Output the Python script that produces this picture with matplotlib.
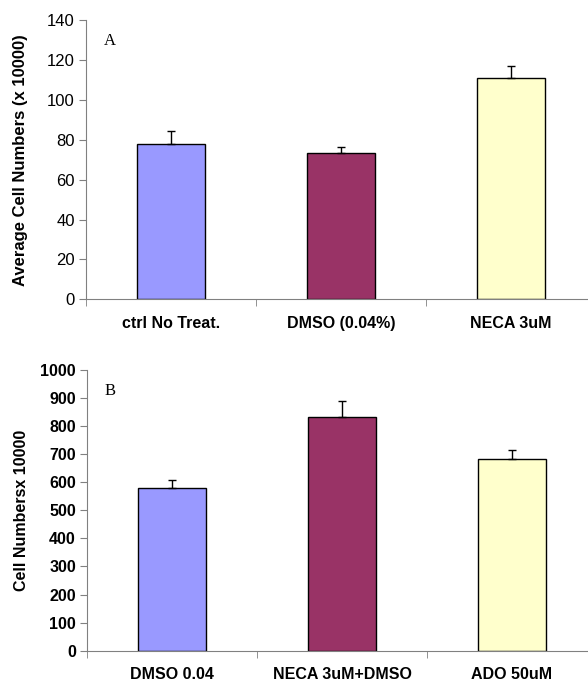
import numpy as np
import matplotlib
matplotlib.use("Agg")
import matplotlib.pyplot as plt

# panel A
labelsA = ['ctrl No Treat.', 'DMSO (0.04%)', 'NECA 3uM']
meansA = [78, 73.2, 110.8]
errA = [6.5, 3.3, 6.2]

# panel B
labelsB = ['DMSO 0.04', 'NECA 3uM+DMSO', 'ADO 50uM']
meansB = [578, 832, 683]
errB = [29, 57, 33]

colors = ['#9999ff', '#993366', '#ffffcc']

W, H = 588, 682
fig = plt.figure(figsize=(W / 100, H / 100), dpi=100)

def px_axes(left, top, right, bottom):
    return fig.add_axes([left / W, 1 - bottom / H, (right - left) / W, (bottom - top) / H])

def draw(ax, labels, means, errs, ymax, step, ylabel, letter, boldticks, ylsize):
    x = np.arange(len(labels))
    ax.bar(x, means, width=0.4, color=colors, edgecolor='black', linewidth=1.0, zorder=2)
    # only the upper half of the error bar is shown
    ax.errorbar(x, means, yerr=[np.zeros(len(errs)), errs], fmt='none',
                ecolor='black', elinewidth=1.0, capsize=3, capthick=1.0, zorder=3)
    ax.set_xlim(-0.5, len(labels) - 0.5)
    ax.set_ylim(0, ymax)
    ax.set_yticks(np.arange(0, ymax + 1, step))
    ax.set_xticks(x)
    ax.set_xticklabels(labels, fontsize=11.5, fontweight='bold', family='Liberation Sans')
    ax.set_xticks(np.arange(-0.5, len(labels)), minor=True)
    ax.tick_params(axis='x', which='major', length=0, pad=12)
    ax.tick_params(axis='x', which='minor', length=5, direction='out', color='#808080')
    ax.tick_params(axis='y', length=5, direction='out', color='#808080', pad=3)
    for t in ax.get_yticklabels():
        t.set_family('Liberation Sans')
        t.set_fontsize(11.5 if boldticks else 12)
        if boldticks:
            t.set_fontweight('bold')
    ax.set_ylabel(ylabel, fontsize=ylsize, fontweight='bold', family='Liberation Sans',
                  va='center')
    # centre of the y label ~21 px from the figure's left edge
    pos = ax.get_position()
    ax.yaxis.set_label_coords((21 / W - pos.x0) / pos.width, 0.5)
    for s in ['top', 'right']:
        ax.spines[s].set_visible(False)
    for s in ['left', 'bottom']:
        ax.spines[s].set_color('#808080')
        ax.spines[s].set_linewidth(0.8)
    ax.text(0.035, 0.925, letter, transform=ax.transAxes, family='Liberation Serif',
            fontsize=12, va='center', ha='left')

axA = px_axes(86, 20, 596, 299.3)
draw(axA, labelsA, meansA, errA, 140, 20, 'Average Cell Numbers (x 10000)', 'A', False, 12)

axB = px_axes(87, 370, 597, 650.7)
draw(axB, labelsB, meansB, errB, 1000, 100, 'Cell Numbersx 10000', 'B', True, 11.5)

fig.savefig('out.png', dpi=100)
